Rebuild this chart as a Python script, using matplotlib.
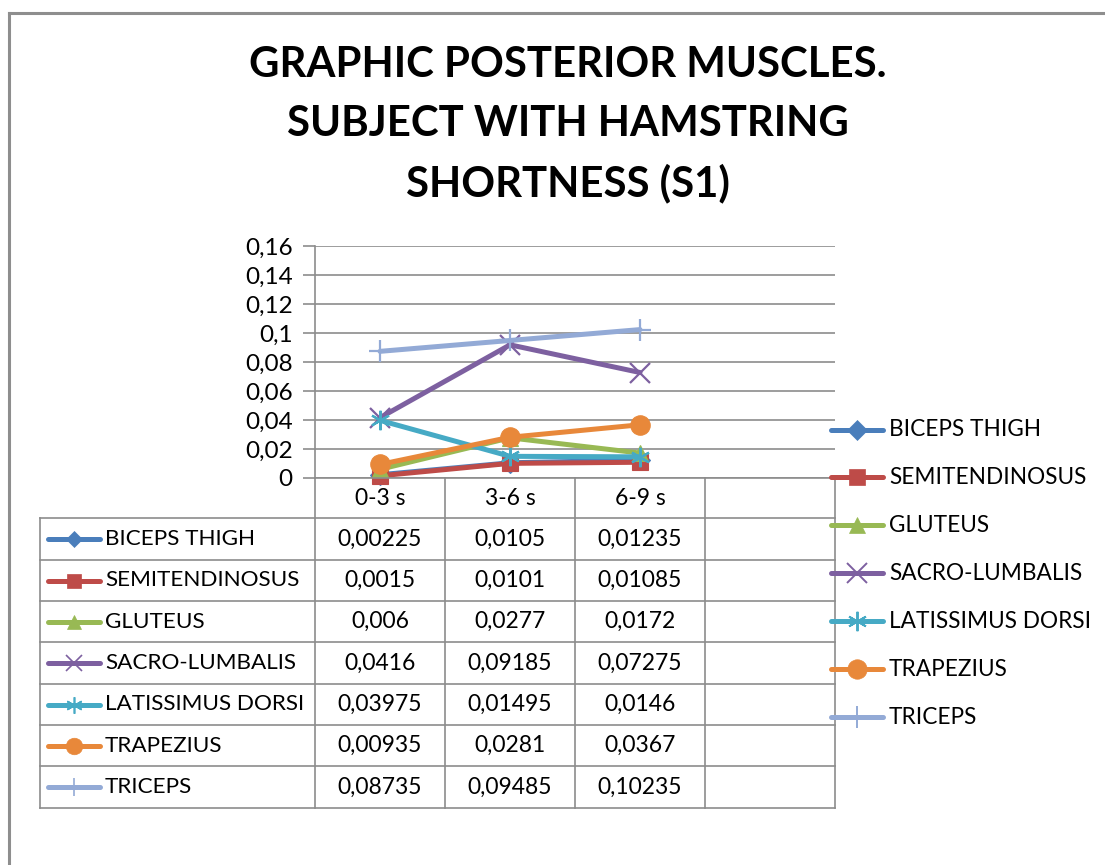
import matplotlib
matplotlib.use("Agg")
import matplotlib.pyplot as plt
from matplotlib.lines import Line2D

plt.rcParams['font.family'] = ['Lato', 'DejaVu Sans']

categories = ["0-3 s", "3-6 s", "6-9 s", ""]
series_names = ["BICEPS THIGH", "SEMITENDINOSUS", "GLUTEUS", "SACRO-LUMBALIS",
                "LATISSIMUS DORSI", "TRAPEZIUS", "TRICEPS"]
biceps = [0.00225, 0.0105, 0.01235]
semitend = [0.0015, 0.0101, 0.01085]
gluteus = [0.006, 0.0277, 0.0172]
sacro = [0.0416, 0.09185, 0.07275]
latissimus = [0.03975, 0.01495, 0.0146]
trapezius = [0.00935, 0.0281, 0.0367]
triceps = [0.08735, 0.09485, 0.10235]
yticks = [0, 0.02, 0.04, 0.06, 0.08, 0.1, 0.12, 0.14, 0.16]

values = [biceps, semitend, gluteus, sacro, latissimus, trapezius, triceps]
colors = ["#4A7EBB", "#BE4B48", "#98B954", "#7D60A0", "#46AAC5", "#E8883A", "#93AAD6"]
markers = ["D", "s", "^", "x", (6, 2, 0), "o", "+"]
msizes = [10, 12, 12, 14, 14, 14, 16]

W, H = 1105, 865
fig = plt.figure(figsize=(W / 100, H / 100), dpi=100)

def fx(x):
    return x / W

def fy(y):
    return 1 - y / H

GRID = "#8C8C8C"
FS = 16.5

# outer border (left & top visible)
fig.add_artist(Line2D([fx(8.5), fx(8.5)], [fy(13), fy(870)], color="#8E8E8E", lw=2.2))
fig.add_artist(Line2D([fx(8.5), fx(1110)], [fy(13), fy(13)], color="#8E8E8E", lw=2.2))

# title
title_lines = ["GRAPHIC POSTERIOR MUSCLES.", "SUBJECT WITH HAMSTRING", "SHORTNESS (S1)"]
for i, t in enumerate(title_lines):
    fig.text(fx(568), fy(65 + i * 59), t, ha="center", va="center",
             fontsize=30.2, fontweight="bold", color="black")

# axes
L, R, T, B = 315, 835, 246, 478
ax = fig.add_axes([fx(L), fy(B), fx(R) - fx(L), fy(T) - fy(B)])
ax.set_xlim(-0.5, 3.5)
ax.set_ylim(0, 0.16)
ax.set_yticks(yticks)
ax.set_yticklabels([("%g" % v).replace(".", ",") for v in yticks], fontsize=17.5)
ax.yaxis.grid(True, color=GRID, lw=1.2)
ax.set_axisbelow(True)
ax.tick_params(axis="y", length=9, color=GRID, width=1.2, pad=7)
ax.set_xticks([])
for s in ["top", "right"]:
    ax.spines[s].set_visible(False)
ax.spines["left"].set_color(GRID)
ax.spines["bottom"].set_color(GRID)
ax.spines["left"].set_linewidth(1.2)
ax.spines["bottom"].set_linewidth(1.2)

xs = list(range(3))
for vals, c, m, ms in zip(values, colors, markers, msizes):
    ax.plot(xs, vals, color=c, lw=3.6, marker=m, markersize=ms,
            markeredgewidth=1.6 if m in ("x", "+") or isinstance(m, tuple) else 0.8,
            markeredgecolor=c, markerfacecolor=c, clip_on=False, solid_capstyle="round")

# data table
col_x = [315, 445, 575, 705, 835]
row_y = [518, 560, 601, 642, 684, 725, 766, 808]
tbl_left = 40
for x in col_x:
    fig.add_artist(Line2D([fx(x), fx(x)], [fy(B), fy(row_y[-1])], color=GRID, lw=1.2))
fig.add_artist(Line2D([fx(tbl_left), fx(tbl_left)], [fy(row_y[0]), fy(row_y[-1])], color=GRID, lw=1.2))
for y in row_y:
    fig.add_artist(Line2D([fx(tbl_left), fx(835)], [fy(y), fy(y)], color=GRID, lw=1.2))

# category labels
for i, cat in enumerate(categories):
    cx = (col_x[i] + col_x[i + 1]) / 2
    fig.text(fx(cx), fy(498), cat, ha="center", va="center", fontsize=FS)

for r, (name, vals, c, m, ms) in enumerate(zip(series_names, values, colors, markers, msizes)):
    cy = (row_y[r] + row_y[r + 1]) / 2
    fig.add_artist(Line2D([fx(48), fx(100)], [fy(cy), fy(cy)], color=c, lw=3.6, solid_capstyle="round"))
    fig.add_artist(Line2D([fx(74)], [fy(cy)], color=c, marker=m, markersize=ms * 0.85,
                          markeredgecolor=c, markerfacecolor=c,
                          markeredgewidth=1.2 if m in ("x", "+") or isinstance(m, tuple) else 0.5))
    fig.text(fx(105), fy(cy), name, ha="left", va="center", fontsize=16.2)
    for i, v in enumerate(vals):
        cx = (col_x[i] + col_x[i + 1]) / 2
        fig.text(fx(cx), fy(cy), str(v).replace(".", ","), ha="center", va="center", fontsize=FS)

# legend at right
leg_y = [430, 477, 525, 573, 621, 669, 717]
for name, c, m, ms, y in zip(series_names, colors, markers, msizes, leg_y):
    fig.add_artist(Line2D([fx(831), fx(883)], [fy(y), fy(y)], color=c, lw=3.6, solid_capstyle="round"))
    fig.add_artist(Line2D([fx(857)], [fy(y)], color=c, marker=m, markersize=ms,
                          markeredgecolor=c, markerfacecolor=c,
                          markeredgewidth=1.4 if m in ("x", "+") or isinstance(m, tuple) else 0.5))
    fig.text(fx(889), fy(y), name, ha="left", va="center", fontsize=16.3)

fig.savefig("out.png", dpi=100)
